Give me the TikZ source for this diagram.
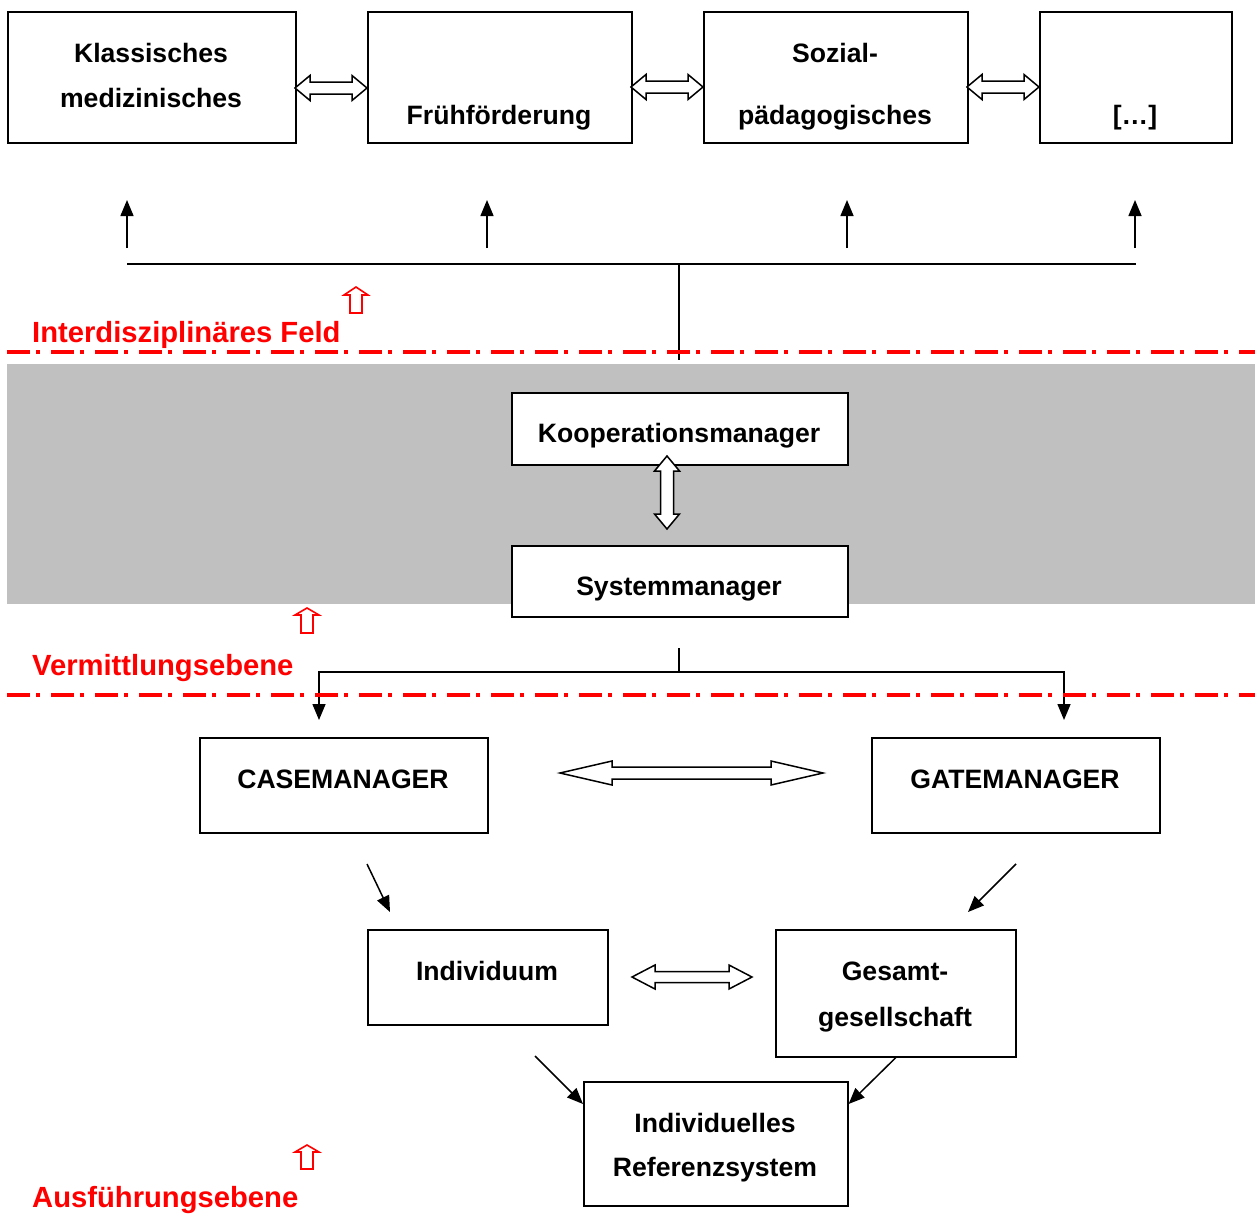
\documentclass[tikz,border=0pt]{standalone}
\usepackage{fontspec}
\setmainfont{Liberation Sans}
\usetikzlibrary{arrows.meta,calc}
\definecolor{bandgray}{HTML}{C0C0C0}
\newcommand\hdarr[6]{% x1, x2, y, headlen, headhalf, shafthalf
  \draw[hollow] (#1,#3) -- ({#1+#4},{#3-#5}) -- ({#1+#4},{#3-#6}) -- ({#2-#4},{#3-#6}) -- ({#2-#4},{#3-#5}) -- (#2,#3)
    -- ({#2-#4},{#3+#5}) -- ({#2-#4},{#3+#6}) -- ({#1+#4},{#3+#6}) -- ({#1+#4},{#3+#5}) -- cycle;}
\newcommand\vdarr[6]{% x, y1, y2, headlen, headhalf, shafthalf
  \draw[hollow] (#1,#2) -- ({#1+#5},{#2+#4}) -- ({#1+#6},{#2+#4}) -- ({#1+#6},{#3-#4}) -- ({#1+#5},{#3-#4}) -- (#1,#3)
    -- ({#1-#5},{#3-#4}) -- ({#1-#6},{#3-#4}) -- ({#1-#6},{#2+#4}) -- ({#1-#5},{#2+#4}) -- cycle;}
\newcommand\redup[4]{% x, ytip, ybase, ybottom
  \draw[red, line width=1.6pt, line join=miter] (#1,#2) -- ({#1+12},#3) -- ({#1+6},#3) -- ({#1+6},#4) -- ({#1-6},#4) -- ({#1-6},#3) -- ({#1-12},#3) -- cycle;}
\begin{document}
\begin{tikzpicture}[x=1pt,y=-1pt,
  box/.style={draw, line width=1.6pt, inner sep=0pt, anchor=north west, fill=white},
  txt/.style={anchor=base, inner sep=0pt, font=\fontsize{26.6}{32}\selectfont\bfseries},
  rtxt/.style={anchor=base west, inner sep=0pt, text=red, font=\fontsize{29.2}{34}\selectfont\bfseries},
  hollow/.style={draw, fill=white, line width=1.5pt, line join=miter},
  conn/.style={line width=1.5pt},
  arr/.style={conn, -{Triangle[length=16pt,width=13pt]}},
  dashdot/.style={red, line width=4pt, dash pattern=on 23pt off 6pt on 4pt off 11pt}]
\useasboundingbox (0,0) rectangle (1255,1229);
\fill[white] (0,0) rectangle (1255,1229);
% gray band
\fill[bandgray] (7,364) rectangle (1255,604);

% top boxes
\node[box, minimum width=288pt, minimum height=131pt] (b1) at (7,11) {};
\node[box, minimum width=264pt, minimum height=131pt] (b2) at (367,11) {};
\node[box, minimum width=264pt, minimum height=131pt] (b3) at (703,11) {};
\node[box, minimum width=192pt, minimum height=131pt] (b4) at (1039,11) {};
\node[txt] (t1a) at (151,62) {Klassisches};
\node[txt] (t1b) at (151,107) {medizinisches};
\node[txt] (t2) at (499,124) {Frühförderung};
\node[txt] (t3a) at (835,62) {Sozial-};
\node[txt] (t3b) at (835,124) {pädagogisches};
\node[txt] (t4) at (1135,124) {[…]};

% hollow arrows between top boxes
\hdarr{295}{367}{88}{15}{12.5}{6}
\hdarr{631}{703}{87}{15}{12.5}{6}
\hdarr{967}{1039}{87}{15}{12.5}{6}

% distribution lines
\coordinate (hl) at (127,264);
\coordinate (hr) at (1136,264);
\coordinate (hm) at (679,264);
\coordinate (hb) at (679,360);
\draw[conn] (hl) -- (hr);
\draw[conn] (hm) -- (hb);
\foreach \x in {127,487,847,1135}{
  \coordinate (ua\x) at (\x,248);
  \coordinate (ub\x) at (\x,200);
  \draw[arr] (ua\x) -- (ub\x);
}

% interdisciplinary field label
\redup{356}{287}{295}{313}
\node[rtxt] (lab1) at (32,342) {Interdisziplinäres Feld};
\draw[dashdot] (7,352) -- (1255,352);

% middle boxes
\node[box, minimum width=336pt, minimum height=72pt] (koop) at (511,392) {};
\node[box, minimum width=336pt, minimum height=71pt] (sys) at (511,545) {};
\node[txt] (tk) at (679,442) {Kooperationsmanager};
\node[txt] (ts) at (679,595) {Systemmanager};
\vdarr{667}{456}{529}{15}{12.5}{6.5}

\redup{307}{608}{615}{633}
\node[rtxt] (lab2) at (32,675) {Vermittlungsebene};

% split from Systemmanager
\coordinate (sa) at (679,648);
\coordinate (sb) at (679,672);
\coordinate (sl) at (319,672);
\coordinate (sr) at (1064,672);
\coordinate (sld) at (319,720);
\coordinate (srd) at (1064,720);
\draw[conn] (sa) -- (sb);
\draw[arr] (sb) -- (sl) -- (sld);
\draw[arr] (sb) -- (sr) -- (srd);
\draw[dashdot] (7,695) -- (1255,695);

% lower boxes
\node[box, minimum width=288pt, minimum height=95pt] (case) at (199,737) {};
\node[box, minimum width=288pt, minimum height=95pt] (gate) at (871,737) {};
\node[txt] (tc) at (343,788) {CASEMANAGER};
\node[txt] (tg) at (1015,788) {GATEMANAGER};
\hdarr{560}{823}{773}{52}{12}{6}

\coordinate (d1a) at (367,864);
\coordinate (d1b) at (390,912);
\coordinate (d2a) at (1016,864);
\coordinate (d2b) at (968,912);
\draw[arr] (d1a) -- (d1b);
\draw[arr] (d2a) -- (d2b);

\node[box, minimum width=240pt, minimum height=95pt] (ind) at (367,929) {};
\node[box, minimum width=240pt, minimum height=127pt] (ges) at (775,929) {};
\node[txt] (ti) at (487,980) {Individuum};
\node[txt] (tga) at (895,980) {Gesamt-};
\node[txt] (tgb) at (895,1026) {gesellschaft};
\hdarr{632}{752}{977}{23}{12}{5.5}

\node[box, minimum width=264pt, minimum height=124pt] (ref) at (583,1081) {};
\node[txt] (tra) at (715,1132) {Individuelles};
\node[txt] (trb) at (715,1176) {Referenzsystem};
\coordinate (d3a) at (535,1056);
\draw[arr] (d3a) -- (ref.west |- 0,1104);
\draw[arr] (ges.south) -- (ref.east |- 0,1104);

\redup{307}{1145}{1152}{1169}
\node[rtxt] (lab3) at (32,1207) {Ausführungsebene};
\end{tikzpicture}
\end{document}
